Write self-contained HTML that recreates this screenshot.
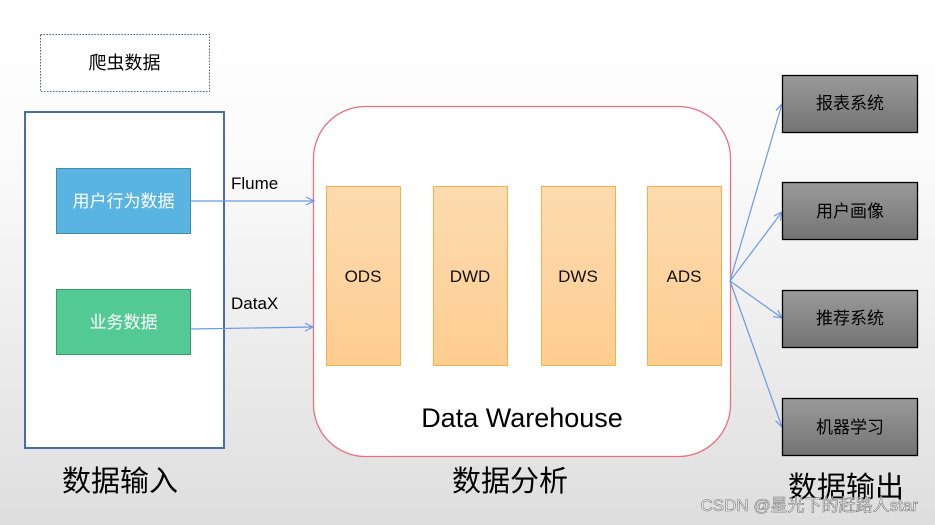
<!DOCTYPE html>
<html><head><meta charset="utf-8"><style>
html,body{margin:0;padding:0;width:935px;height:525px;overflow:hidden}
svg{display:block}
text{font-family:"Liberation Sans","Noto Sans CJK SC",sans-serif}
</style></head><body>
<svg width="935" height="525" viewBox="0 0 935 525" xmlns="http://www.w3.org/2000/svg">
<defs>
<linearGradient id="bg" x1="0" y1="0" x2="0" y2="1"><stop offset="0" stop-color="#ffffff"/><stop offset="0.3" stop-color="#fbfbfb"/><stop offset="1" stop-color="#dedede"/></linearGradient>
<linearGradient id="col" x1="0" y1="0" x2="0" y2="1"><stop offset="0" stop-color="#fddbb0"/><stop offset="1" stop-color="#fecd90"/></linearGradient>
<linearGradient id="gr" x1="0" y1="0" x2="0" y2="1"><stop offset="0" stop-color="#9a9a9a"/><stop offset="1" stop-color="#747474"/></linearGradient>
<marker id="ah" markerWidth="10" markerHeight="10" refX="9" refY="5" orient="auto" markerUnits="userSpaceOnUse"><path d="M1,1 L9,5 L1,9" fill="none" stroke="#6a9ae8" stroke-width="1.2"/></marker>
</defs>
<rect width="935" height="525" fill="url(#bg)"/>
<rect x="40.5" y="34.5" width="169" height="57" fill="#fff" stroke="#3f5f9f" stroke-width="1" stroke-dasharray="1.5,1.5"/>
<text x="124.5" y="69" font-size="18" text-anchor="middle" fill="#000">爬虫数据</text>
<rect x="25" y="112" width="199" height="336" fill="#fff" stroke="#4a6ca8" stroke-width="2"/>
<rect x="56.5" y="168.5" width="134" height="65" fill="#5ab4e2" stroke="#3d8ea8"/>
<text x="123.5" y="207" font-size="17" text-anchor="middle" fill="#fff">用户行为数据</text>
<rect x="56.5" y="289.5" width="134" height="65" fill="#53c993" stroke="#3a9a6e"/>
<text x="123.5" y="328" font-size="17" text-anchor="middle" fill="#fff">业务数据</text>
<rect x="313.5" y="106.5" width="417" height="350" rx="52" fill="#fff" stroke="#e8707f" stroke-width="1.3"/>
<g fill="url(#col)" stroke="#f5b04a" stroke-width="1">
<rect x="326.5" y="186.5" width="74" height="179"/>
<rect x="433.5" y="186.5" width="74" height="179"/>
<rect x="541.5" y="186.5" width="74" height="179"/>
<rect x="647.5" y="186.5" width="74" height="179"/>
</g>
<g font-size="17" text-anchor="middle" fill="#111">
<text x="363" y="282">ODS</text><text x="470" y="282">DWD</text><text x="578" y="282">DWS</text><text x="684" y="282">ADS</text>
</g>
<text x="522" y="427" font-size="27" text-anchor="middle" fill="#000">Data Warehouse</text>
<text x="231" y="189" font-size="17" fill="#000">Flume</text>
<text x="231" y="309" font-size="17" fill="#000">DataX</text>
<g stroke="#6a9ae8" stroke-width="1.2" fill="none" marker-end="url(#ah)">
<line x1="191" y1="201" x2="314" y2="201"/>
<line x1="191" y1="329" x2="313" y2="327"/>
<line x1="730" y1="281" x2="782" y2="104"/>
<line x1="730" y1="281" x2="782" y2="212"/>
<line x1="730" y1="281" x2="782" y2="318"/>
<line x1="730" y1="281" x2="782" y2="427"/>
</g>
<g fill="url(#gr)" stroke="#000" stroke-width="1.3">
<rect x="782.5" y="75.5" width="135" height="57"/>
<rect x="782.5" y="182.5" width="135" height="57"/>
<rect x="782.5" y="290.5" width="135" height="57"/>
<rect x="782.5" y="398.5" width="135" height="57"/>
</g>
<g font-size="17" text-anchor="middle" fill="#000">
<text x="850" y="109">报表系统</text><text x="850" y="217">用户画像</text><text x="850" y="324">推荐系统</text><text x="850" y="433">机器学习</text>
</g>
<g font-size="29" text-anchor="middle" fill="#000">
<text x="120" y="491">数据输入</text><text x="510" y="491">数据分析</text><text x="846" y="497">数据输出</text>
</g>
<text x="918" y="511" font-size="17" text-anchor="end" fill="#fff" fill-opacity="0.8" stroke="#777" stroke-width="0.6">CSDN @星光下的赶路人star</text>
</svg>
</body></html>
